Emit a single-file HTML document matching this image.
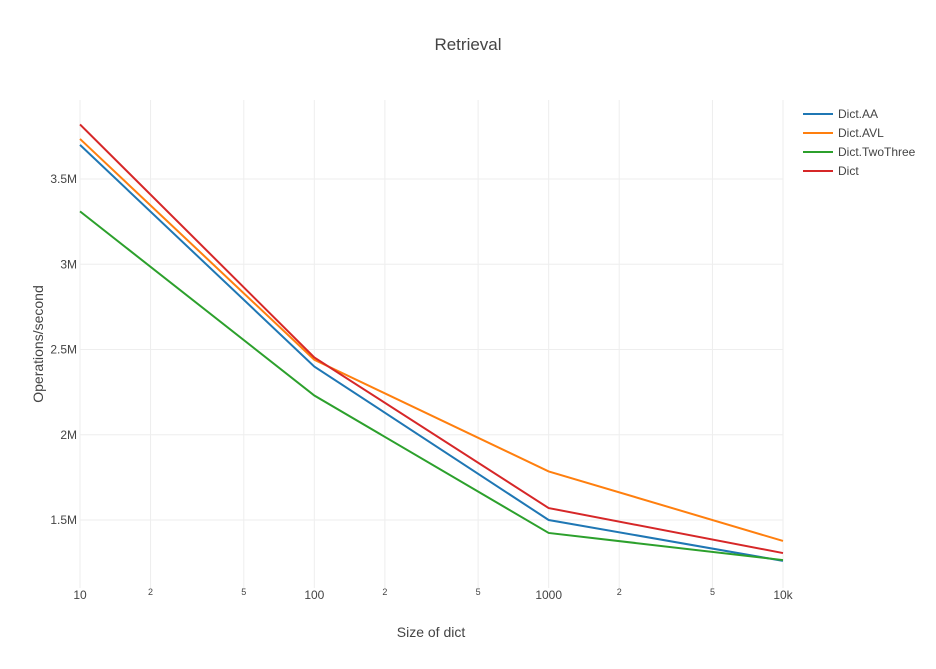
<!DOCTYPE html>
<html><head><meta charset="utf-8"><style>
body{margin:0;background:#fff;}
svg text{font-family:"Liberation Sans",sans-serif;fill:#444;}
</style></head><body>
<svg id="chart" width="936" height="664" xmlns="http://www.w3.org/2000/svg">
<rect width="936" height="664" fill="#fff"/>
<text x="468" y="50" text-anchor="middle" font-size="17">Retrieval</text>
<g id="grid"></g>
<g id="axes"></g>
<g id="lines"></g>
<text x="431" y="637" text-anchor="middle" font-size="14">Size of dict</text>
<text transform="translate(43,344) rotate(-90)" text-anchor="middle" font-size="14">Operations/second</text>
<g id="legend"></g>
</svg>
<script>
const sizes=[10,100,1000,10000];
const seriesNames=["Dict.AA","Dict.AVL","Dict.TwoThree","Dict"];
const aaValues=[3.70,2.40,1.50,1.26];
const avlValues=[3.735,2.44,1.785,1.377];
const twoThreeValues=[3.31,2.23,1.424,1.265];
const dictValues=[3.82,2.453,1.57,1.306];
const yTicks=[1.5,2,2.5,3,3.5];
const yTickLabels=["1.5M","2M","2.5M","3M","3.5M"];
const xMajorTicks=[10,100,1000,10000];
const xMajorLabels=["10","100","1000","10k"];
const xMinor=[2,5];
const colors=["#1f77b4","#ff7f0e","#2ca02c","#d62728"];
const NS="http://www.w3.org/2000/svg";
const L=80,R=783,T=100,B=588;
function xs(v){return L+(Math.log10(v)-1)/3*(R-L);}
function ys(v){return 179+(3.5-v)*170.5;}
function mk(tag,attrs,parent){const e=document.createElementNS(NS,tag);for(const k in attrs)e.setAttribute(k,attrs[k]);parent.appendChild(e);return e;}
const grid=document.getElementById('grid'),axes=document.getElementById('axes');
yTicks.forEach((t,i)=>{
 const ln=mk('line',{x1:L,x2:R,y1:ys(t),y2:ys(t),stroke:'#eee','stroke-width':1},grid);
 
 
 const tx=mk('text',{x:L-3,y:ys(t)+4,'text-anchor':'end','font-size':12},axes);
 tx.textContent=yTickLabels[i];
 
 
});
xMajorTicks.forEach((t,i)=>{
 const ln=mk('line',{x1:xs(t),x2:xs(t),y1:T,y2:B,stroke:'#eee','stroke-width':1},grid);
 
 
 const tx=mk('text',{x:xs(t),y:599,'text-anchor':'middle','font-size':12},axes);
 tx.textContent=xMajorLabels[i];
 
 
 if(i<xMajorTicks.length-1){
  xMinor.forEach(m=>{
   const v=t*m;
   const g=mk('line',{x1:xs(v),x2:xs(v),y1:T,y2:B,stroke:'#eee','stroke-width':1},grid);
   
   
   const mt=mk('text',{x:xs(v),y:595,'text-anchor':'middle','font-size':9},axes);
   mt.textContent=String(m);
   
   
  });
 }
});
const all=[aaValues,avlValues,twoThreeValues,dictValues];
const lines=document.getElementById('lines');
all.forEach((vals,si)=>{
 const p=mk('polyline',{points:vals.map((v,i)=>xs(sizes[i])+','+ys(v)).join(' '),fill:'none',stroke:colors[si],'stroke-width':2},lines);
 
 
});
const leg=document.getElementById('legend');
seriesNames.forEach((n,i)=>{
 const g=mk('g',{},leg);
 
 
 const y=114+i*19;
 mk('line',{x1:803,x2:833,y1:y,y2:y,stroke:colors[i],'stroke-width':2},g);
 const t=mk('text',{x:838,y:y+4,'font-size':12},g);
 t.textContent=n;
});
</script>
</body></html>
